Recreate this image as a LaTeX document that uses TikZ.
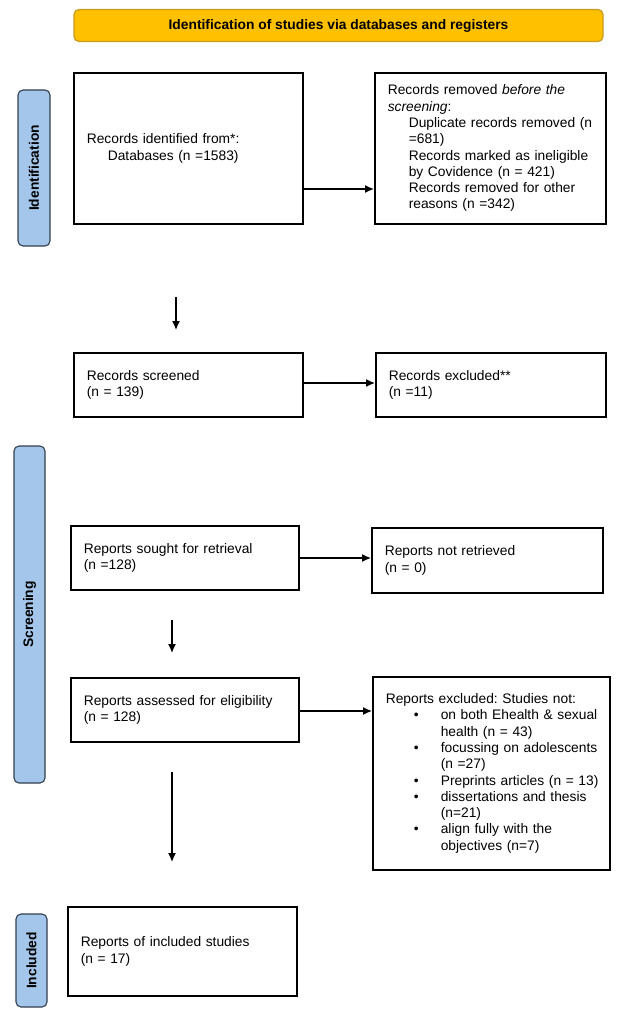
\documentclass[tikz,border=0pt]{standalone}
\usepackage{fontspec}
\setmainfont{Liberation Sans}
\usetikzlibrary{arrows.meta}
\frenchspacing
\definecolor{headfill}{HTML}{FFC000}
\definecolor{headline}{HTML}{C99A1E}
\definecolor{sidefill}{HTML}{A4C6EA}
\definecolor{sideline}{HTML}{33404F}
\newcommand{\bulitem}[1]{\hspace*{28pt}\makebox[27pt][l]{\textbullet}\mbox{#1}}
\newcommand{\bulcont}[1]{\hspace*{55pt}\mbox{#1}}
\tikzset{
  prismabox/.style={draw, line width=1.6pt, align=left, anchor=north west, inner xsep=13pt, inner ysep=0pt, font=\fontsize{13.8}{16.3}\selectfont},
  sidebar/.style={draw=sideline, fill=sidefill, line width=1.1pt, rounded corners=5pt, font=\fontsize{13.8}{16}\selectfont\bfseries},
  flow/.style={-{Latex[length=9pt,width=8pt]}, line width=1.3pt}
}
\begin{document}
\begin{tikzpicture}[x=1pt, y=-1pt]
\useasboundingbox (0,0) rectangle (618,1011);
\node[draw=headline, fill=headfill, line width=1.2pt, rounded corners=5pt, minimum width=529pt, minimum height=32pt, font=\fontsize{13.8}{16}\selectfont\bfseries] (head) at (338.5,25.5) {Identification of studies via databases and registers};
\node[sidebar, minimum width=156pt, minimum height=32pt, rotate=90] (sideid) at (34,168) {Identification};
\node[sidebar, minimum width=337pt, minimum height=31pt, rotate=90] (sidescr) at (29.5,614.5) {Screening};
\node[sidebar, minimum width=93pt, minimum height=31pt, rotate=90] (sideinc) at (31.5,960.5) {Included};
\node[prismabox, text width=203pt, minimum height=151pt] (ident) at (73,72) {Records identified from*:\\\hspace*{21pt}Databases (n =1583)\\[12pt]};
\node[prismabox, text width=205pt, minimum height=151pt] (removed) at (374,72) {Records removed \textit{before the}\\\textit{screening}:\\\hspace*{21pt}Duplicate records removed (n\\\hspace*{21pt}=681)\\\hspace*{21pt}Records marked as ineligible\\\hspace*{21pt}by Covidence (n = 421)\\\hspace*{21pt}Records removed for other\\\hspace*{21pt}reasons (n =342)};
\node[prismabox, text width=203pt, minimum height=64pt] (screened) at (73,352) {Records screened\\(n = 139)};
\node[prismabox, text width=204pt, minimum height=64pt] (excluded) at (375,352) {Records excluded**\\(n =11)};
\node[prismabox, text width=202pt, minimum height=64pt] (sought) at (70,525) {Reports sought for retrieval\\(n =128)};
\node[prismabox, text width=205pt, minimum height=65pt] (notretr) at (371,527) {Reports not retrieved\\(n = 0)};
\node[prismabox, text width=202pt, minimum height=64pt] (assessed) at (70,677) {Reports assessed for eligibility\\(n = 128)};
\node[prismabox, text width=211pt, minimum height=193pt] (repexcl) at (372,676) {Reports excluded: Studies not:\\
\bulitem{on both Ehealth \& sexual}\\
\bulcont{health (n = 43)}\\
\bulitem{focussing on adolescents}\\
\bulcont{(n =27)}\\
\bulitem{Preprints articles (n = 13)}\\
\bulitem{dissertations and thesis}\\
\bulcont{(n=21)}\\
\bulitem{align fully with the}\\
\bulcont{objectives (n=7)}};
\node[prismabox, text width=203pt, minimum height=89pt] (incl) at (67,906) {Reports of included studies\\(n = 17)};
\coordinate (down1s) at (176,297);
\coordinate (down1e) at (176,330);
\coordinate (down2s) at (172,620);
\coordinate (down2e) at (172,653);
\coordinate (down3s) at (172,772);
\coordinate (down3e) at (172,862);
\draw[flow] (ident.east |- 0,189) -- (removed.west |- 0,189);
\draw[flow] (down1s) -- (down1e);
\draw[flow] (screened.east |- 0,383) -- (excluded.west |- 0,383);
\draw[flow] (sought.east |- 0,558) -- (notretr.west |- 0,558);
\draw[flow] (down2s) -- (down2e);
\draw[flow] (assessed.east |- 0,711) -- (repexcl.west |- 0,711);
\draw[flow] (down3s) -- (down3e);
\end{tikzpicture}
\end{document}
